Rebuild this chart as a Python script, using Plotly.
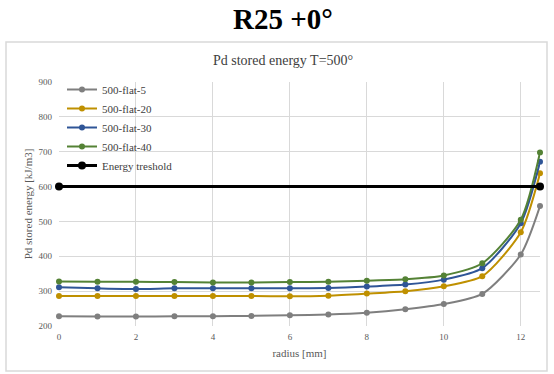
import plotly.graph_objects as go

radius = [0, 1, 2, 3, 4, 5, 6, 7, 8, 9, 10, 11, 12, 12.5]
flat5 = [228, 227, 227, 228, 228, 229, 231, 233, 238, 248, 263, 292, 405, 544]
flat20 = [286, 286, 286, 286, 286, 286, 285, 287, 293, 300, 314, 343, 469, 638]
flat30 = [311, 308, 306, 308, 308, 308, 308, 309, 313, 319, 333, 366, 495, 671]
flat40 = [328, 327, 327, 326, 325, 325, 326, 327, 330, 334, 345, 380, 505, 698]
thr_x = [0, 12.5]
thr_y = [600, 600]

series = [
    ("500-flat-5", flat5, "#7f7f7f"),
    ("500-flat-20", flat20, "#bf9000"),
    ("500-flat-30", flat30, "#2f5597"),
    ("500-flat-40", flat40, "#548235"),
]

SERIF = "Liberation Serif, Times New Roman, serif"
W, H = 554, 374
L, R, T, B = 59, 14, 82, 48
pw, ph = W - L - R, H - T - B

def px(x):
    return (x - L) / pw

def py(y):
    return (H - B - y) / ph

fig = go.Figure()
for name, ys, col in series:
    fig.add_trace(go.Scatter(
        x=radius, y=ys, name=name, mode="lines+markers",
        line=dict(color=col, width=2, shape="spline", smoothing=0.7),
        marker=dict(color=col, size=6), cliponaxis=False))
fig.add_trace(go.Scatter(
    x=thr_x, y=thr_y, name="Energy treshold", mode="lines+markers",
    line=dict(color="black", width=3), marker=dict(color="black", size=8),
    cliponaxis=False))

fig.update_layout(
    width=W, height=H, margin=dict(l=L, r=R, t=T, b=B),
    paper_bgcolor="white", plot_bgcolor="white",
    font=dict(family=SERIF, color="#595959"),
    showlegend=True,
    legend=dict(x=px(62), y=py(75), xanchor="left", yanchor="top",
                bgcolor="rgba(255,255,255,0)",
                font=dict(size=11, color="#404040", family=SERIF)),
    xaxis=dict(range=[0, 12.5], tickvals=[0, 2, 4, 6, 8, 10, 12],
               showgrid=True, gridcolor="#d9d9d9", gridwidth=1,
               zeroline=False, showline=False, ticks="", ticklabelstandoff=4,
               tickfont=dict(size=9, color="#595959", family=SERIF),
               title=dict(text="radius [mm]", font=dict(size=11, color="#595959", family=SERIF), standoff=8)),
    yaxis=dict(range=[200, 900], tickvals=[200, 300, 400, 500, 600, 700, 800, 900],
               showgrid=True, gridcolor="#d9d9d9", gridwidth=1,
               zeroline=False, showline=False, ticks="", ticklabelstandoff=6,
               tickfont=dict(size=9, color="#595959", family=SERIF),
               title=dict(text="Pd stored energy [kJ/m3]", font=dict(size=11, color="#595959", family=SERIF), standoff=3)),
    shapes=[dict(type="rect", xref="paper", yref="paper",
                 x0=px(6), x1=px(547), y0=py(371), y1=py(42),
                 line=dict(color="#d9d9d9", width=1.5), fillcolor="rgba(0,0,0,0)", layer="below")],
    annotations=[
        dict(text="<b>R25 +0°</b>", xref="paper", yref="paper", x=px(283), y=py(19),
             xanchor="center", yanchor="middle", showarrow=False,
             font=dict(size=29, color="black", family=SERIF)),
        dict(text="Pd stored energy T=500°", xref="paper", yref="paper", x=px(283), y=py(60),
             xanchor="center", yanchor="middle", showarrow=False,
             font=dict(size=14, color="#404040", family=SERIF)),
    ],
)
fig.write_html("out.html", config={"displayModeBar": False},
               post_script="document.body.style.margin='0';document.body.style.overflow='hidden';")
